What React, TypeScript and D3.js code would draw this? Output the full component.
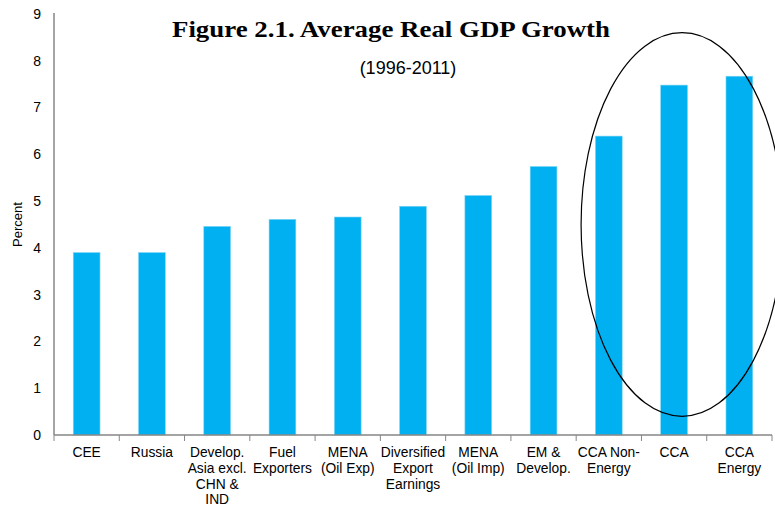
import { useEffect, useRef } from 'react';
import * as d3 from 'd3';

const categories = [
  ['CEE'],
  ['Russia'],
  ['Develop.', 'Asia excl.', 'CHN &', 'IND'],
  ['Fuel', 'Exporters'],
  ['MENA', '(Oil Exp)'],
  ['Diversified', 'Export', 'Earnings'],
  ['MENA', '(Oil Imp)'],
  ['EM &', 'Develop.'],
  ['CCA Non-', 'Energy'],
  ['CCA'],
  ['CCA', 'Energy'],
];
const growth = [3.9, 3.9, 4.46, 4.61, 4.66, 4.89, 5.12, 5.74, 6.39, 7.48, 7.67];
const yTicks = [0, 1, 2, 3, 4, 5, 6, 7, 8, 9];

export default function App() {
  const svgRef = useRef<SVGSVGElement>(null);

  useEffect(() => {
    if (!svgRef.current) return;
    const svg = d3.select(svgRef.current);
    svg.selectAll('*').remove();

    const width = 775;
    const height = 506;
    const margin = { top: 14, right: 3, bottom: 71, left: 54 };
    const innerWidth = width - margin.left - margin.right;
    const innerHeight = height - margin.top - margin.bottom;

    const keys = categories.map((c) => c.join(' '));

    const x = d3.scaleBand<string>().domain(keys).range([0, innerWidth]).paddingInner(0.59).paddingOuter(0.295);
    const y = d3.scaleLinear().domain([0, 9]).range([innerHeight, 0]);

    const g = svg.append('g').attr('transform', `translate(${margin.left},${margin.top})`);

    g.selectAll('rect.bar')
      .data(growth)
      .join('rect')
      .attr('class', 'bar')
      .attr('x', (_, i) => x(keys[i])!)
      .attr('y', (d) => y(d))
      .attr('width', x.bandwidth())
      .attr('height', (d) => innerHeight - y(d))
      .attr('fill', '#00b0f0')
      .attr('stroke', '#7fd6f5')
      .attr('stroke-width', 0.6);

    // y axis
    g.append('line')
      .attr('x1', 0).attr('x2', 0)
      .attr('y1', y(9) - 1).attr('y2', innerHeight)
      .attr('stroke', '#868686').attr('stroke-width', 1.5);

    g.selectAll('text.ytick')
      .data(yTicks)
      .join('text')
      .attr('class', 'ytick')
      .attr('x', -13)
      .attr('y', (d) => y(d))
      .attr('dy', '0.35em')
      .attr('text-anchor', 'end')
      .attr('font-family', '"Liberation Sans", Arial, sans-serif')
      .attr('font-size', 14)
      .attr('fill', '#000')
      .text((d) => d);

    // x axis
    g.append('line')
      .attr('x1', 0).attr('x2', innerWidth)
      .attr('y1', innerHeight).attr('y2', innerHeight)
      .attr('stroke', '#868686').attr('stroke-width', 1.5);

    const step = x.step();
    const boundaries = d3.range(keys.length + 1).map((i) => i * step);
    g.selectAll('line.xtick')
      .data(boundaries)
      .join('line')
      .attr('class', 'xtick')
      .attr('x1', (d) => d).attr('x2', (d) => d)
      .attr('y1', innerHeight).attr('y2', innerHeight + 6)
      .attr('stroke', '#868686').attr('stroke-width', 1);

    const labels = g.selectAll('text.xlab')
      .data(categories)
      .join('text')
      .attr('class', 'xlab')
      .attr('x', (_, i) => x(keys[i])! + x.bandwidth() / 2)
      .attr('y', innerHeight + 22)
      .attr('text-anchor', 'middle')
      .attr('font-family', '"Liberation Sans", Arial, sans-serif')
      .attr('font-size', 13.8)
      .attr('fill', '#000');
    labels.selectAll('tspan')
      .data((d) => d)
      .join('tspan')
      .attr('x', function () {
        return (this.parentNode as SVGTextElement).getAttribute('x');
      })
      .attr('dy', (_, i) => (i === 0 ? 0 : 15.8))
      .text((d) => d);

    // y label
    svg.append('text')
      .attr('transform', `translate(22,${margin.top + innerHeight / 2}) rotate(-90)`)
      .attr('text-anchor', 'middle')
      .attr('font-family', '"Liberation Sans", Arial, sans-serif')
      .attr('font-size', 13)
      .text('Percent');

    // title
    svg.append('text')
      .attr('x', 391)
      .attr('y', 37)
      .attr('text-anchor', 'middle')
      .attr('font-family', '"Liberation Serif", "DejaVu Serif", serif')
      .attr('font-weight', 'bold')
      .attr('font-size', 24)
      .attr('textLength', 438)
      .attr('lengthAdjust', 'spacingAndGlyphs')
      .text('Figure 2.1. Average Real GDP Growth');

    svg.append('text')
      .attr('x', 408)
      .attr('y', 74)
      .attr('text-anchor', 'middle')
      .attr('font-family', '"Liberation Sans", Arial, sans-serif')
      .attr('font-size', 18)
      .text('(1996-2011)');

    // ellipse highlighting CCA groups
    const cx = x('CCA')! + x.bandwidth() / 2 + 8;
    g.append('ellipse')
      .attr('cx', cx)
      .attr('cy', y(4.5))
      .attr('rx', 101)
      .attr('ry', y(0) - y(4.1))
      .attr('fill', 'none')
      .attr('stroke', '#000')
      .attr('stroke-width', 1.2);
  }, []);

  return (
    <div style={{ position: 'absolute', left: 0, top: 0, width: 775, height: 506, background: '#fff' }}>
      <svg ref={svgRef} width={775} height={506} />
    </div>
  );
}
